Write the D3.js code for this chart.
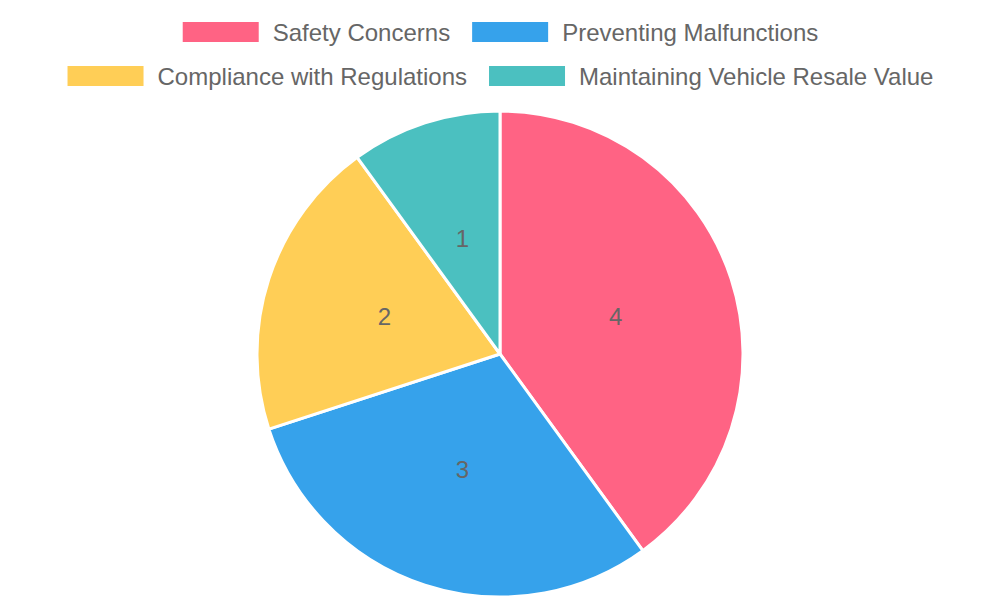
<!DOCTYPE html>
<html><head><meta charset="utf-8">
<script src="https://cdn.jsdelivr.net/npm/d3@7"></script>
<style>body{margin:0;background:#fff;}svg{display:block;font-family:"Liberation Sans",Arial,sans-serif;}</style>
</head><body><svg id="c" width="1000" height="600"></svg>
<script>
const categories = ["Safety Concerns","Preventing Malfunctions","Compliance with Regulations","Maintaining Vehicle Resale Value"];
const values = [4,3,2,1];
const colors = ["#FF6384","#36A2EB","#FFCE56","#4BC0C0"];

const svg = d3.select("#c");
const cx = 500, cy = 354, r = 243;
const pie = d3.pie().sort(null)(values);
const arc = d3.arc().innerRadius(0).outerRadius(r);
const g = svg.append("g").attr("transform",`translate(${cx},${cy})`);
g.selectAll("path").data(pie).join("path")
  .attr("d",arc).attr("fill",(d,i)=>colors[i]).attr("stroke","#fff").attr("stroke-width",3).attr("stroke-linejoin","bevel");
g.selectAll("text").data(pie).join("text")
  .attr("transform",d=>`translate(${arc.centroid(d)})`)
  .attr("text-anchor","middle").attr("dominant-baseline","central")
  .attr("font-size",24).attr("fill","#666").text(d=>d.data);

// legend
const rows = [[0,1],[2,3]];
const rowY = [32,76];
const boxW = 76, boxH = 20, gapT = 14, gapI = 22;
rows.forEach((row,ri)=>{
  const lg = svg.append("g");
  let x = 0;
  row.forEach(i=>{
    const it = lg.append("g").attr("transform",`translate(${x},0)`);
    it.append("rect").attr("x",0).attr("y",rowY[ri]-boxH/2).attr("width",boxW).attr("height",boxH).attr("fill",colors[i]);
    const t = it.append("text").attr("x",boxW+gapT).attr("y",rowY[ri]).attr("dominant-baseline","central")
      .attr("font-size",24).attr("fill","#666").text(categories[i]);
    x += boxW+gapT+t.node().getComputedTextLength()+gapI;
  });
  const w = x-gapI;
  lg.attr("transform",`translate(${500.5-w/2},0)`);
});
</script></body></html>
